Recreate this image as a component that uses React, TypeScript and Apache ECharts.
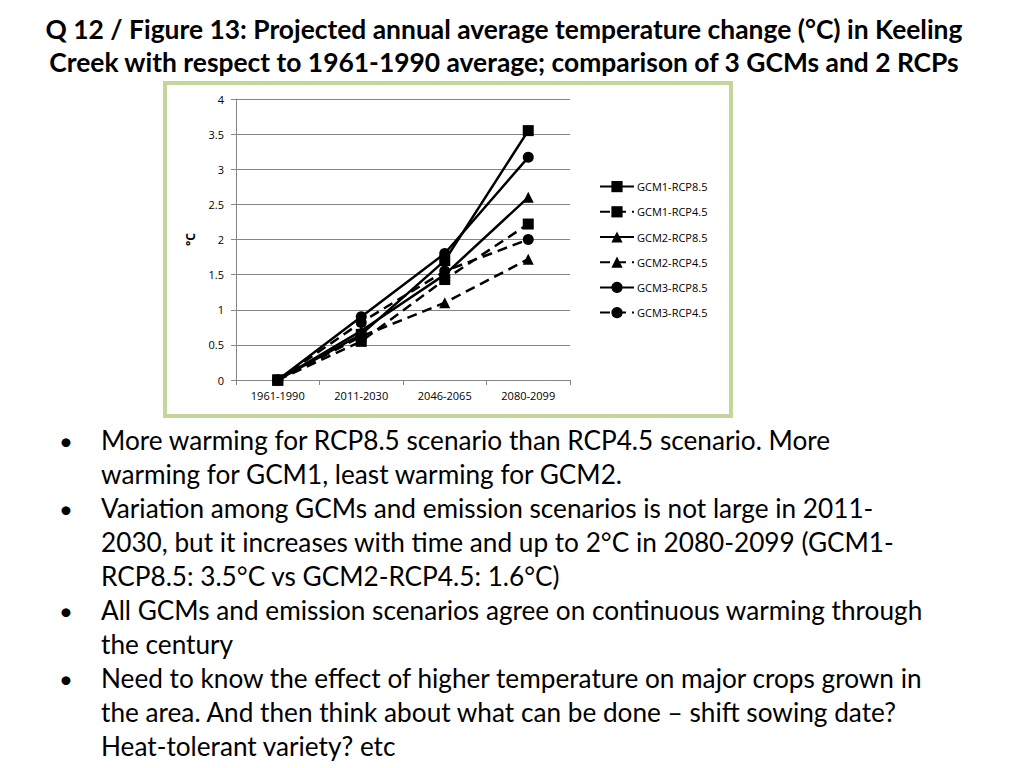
import React, { useEffect, useRef } from "react";
import * as echarts from "echarts";

const categories = ["1961-1990", "2011-2030", "2046-2065", "2080-2099"];
const seriesNames = ["GCM1-RCP8.5", "GCM1-RCP4.5", "GCM2-RCP8.5", "GCM2-RCP4.5", "GCM3-RCP8.5", "GCM3-RCP4.5"];
const gcm1Rcp85 = [0, 0.65, 1.7, 3.55];
const gcm1Rcp45 = [0, 0.55, 1.43, 2.22];
const gcm2Rcp85 = [0, 0.7, 1.5, 2.6];
const gcm2Rcp45 = [0, 0.62, 1.1, 1.72];
const gcm3Rcp85 = [0, 0.9, 1.8, 3.17];
const gcm3Rcp45 = [0, 0.82, 1.55, 2.0];
const yTicks = { min: 0, max: 4, interval: 0.5 };

const titleLines = [
  "Q 12 / Figure 13: Projected annual average temperature change (°C) in Keeling",
  "Creek with respect to 1961-1990 average; comparison of 3 GCMs and 2 RCPs",
];
const bulletLines: { bullet: boolean; text: string }[] = [
  { bullet: true, text: "More warming for RCP8.5 scenario than RCP4.5 scenario. More" },
  { bullet: false, text: "warming for GCM1, least warming for GCM2." },
  { bullet: true, text: "Variation among GCMs and emission scenarios is not large in 2011-" },
  { bullet: false, text: "2030, but it increases with time and up to 2°C in 2080-2099 (GCM1-" },
  { bullet: false, text: "RCP8.5: 3.5°C vs GCM2-RCP4.5: 1.6°C)" },
  { bullet: true, text: "All GCMs and emission scenarios agree on continuous warming through" },
  { bullet: false, text: "the century" },
  { bullet: true, text: "Need to know the effect of higher temperature on major crops grown in" },
  { bullet: false, text: "the area. And then think about what can be done – shift sowing date?" },
  { bullet: false, text: "Heat-tolerant variety? etc" },
];

const seriesData = [gcm1Rcp85, gcm1Rcp45, gcm2Rcp85, gcm2Rcp45, gcm3Rcp85, gcm3Rcp45];
const symbols = ["rect", "rect", "triangle", "triangle", "circle", "circle"];

export default function App() {
  const ref = useRef<HTMLDivElement>(null);
  useEffect(() => {
    if (!ref.current) return;
    const chart = echarts.init(ref.current, undefined, { renderer: "svg" });
    const textFont = "Lato, 'Open Sans', sans-serif";
    const graphics: any[] = [
      {
        type: "rect",
        shape: { x: 165, y: 83, width: 566, height: 333 },
        style: { fill: "none", stroke: "#c3d69b", lineWidth: 4 },
        z: 0,
      },
    ];
    titleLines.forEach((t, i) => {
      graphics.push({
        type: "text",
        x: 504,
        y: 29 + i * 33,
        style: {
          text: t,
          fill: "#000",
          font: `bold 26.4px ${textFont}`,
          textAlign: "center",
          textVerticalAlign: "middle",
        },
      });
    });
    bulletLines.forEach((l, i) => {
      const y = 440 + i * 34.0;
      if (l.bullet) {
        graphics.push({
          type: "text",
          x: 59,
          y,
          style: { text: "•", fill: "#000", font: `24px ${textFont}`, textVerticalAlign: "middle" },
        });
      }
      graphics.push({
        type: "text",
        x: 101,
        y,
        style: { text: l.text, fill: "#000", font: `26.2px ${textFont}`, textVerticalAlign: "middle" },
      });
    });

    chart.setOption({
      animation: false,
      backgroundColor: "#fff",
      graphic: graphics,
      legend: {
        orient: "vertical",
        left: 594,
        top: 176,
        itemWidth: 34,
        itemHeight: 14,
        itemGap: 14,
        data: seriesNames,
        textStyle: { fontSize: 11, color: "#000", fontFamily: "'Open Sans', sans-serif", padding: [0, 0, 0, -2] },
      },
      grid: { left: 236, top: 99, width: 334, height: 281, containLabel: false },
      xAxis: {
        type: "category",
        data: categories,
        boundaryGap: true,
        axisLine: { lineStyle: { color: "#868686", width: 1 } },
        axisTick: { show: true, length: 5, lineStyle: { color: "#868686" } },
        axisLabel: { color: "#000", fontSize: 11, fontFamily: "'Open Sans', sans-serif", margin: 10 },
      },
      yAxis: {
        type: "value",
        min: yTicks.min,
        max: yTicks.max,
        interval: yTicks.interval,
        name: "°C",
        nameLocation: "middle",
        nameRotate: 90,
        nameGap: 40,
        nameTextStyle: { fontSize: 12, fontWeight: "bold", color: "#000", fontFamily: "'Open Sans', sans-serif" },
        axisLine: { show: true, lineStyle: { color: "#868686", width: 1 } },
        axisTick: { show: true, length: 5, lineStyle: { color: "#868686" } },
        axisLabel: { color: "#000", fontSize: 11, fontFamily: "'Open Sans', sans-serif", margin: 12 },
        splitLine: { lineStyle: { color: "#868686", width: 1 } },
      },
      series: seriesNames.map((name, i) => ({
        name,
        type: "line",
        data: seriesData[i],
        symbol: symbols[i],
        symbolSize: 11,
        showSymbol: true,
        lineStyle: {
          color: "#000",
          width: 2.5,
          type: i % 2 === 1 ? [10, 6] : "solid",
        },
        itemStyle: { color: "#000", borderWidth: 0 },
        emphasis: { disabled: true },
        z: 10,
      })),
    });
    return () => chart.dispose();
  }, []);
  return (
    <div
      ref={ref}
      style={{ position: "absolute", left: 0, top: 0, width: 1024, height: 768 }}
    />
  );
}
